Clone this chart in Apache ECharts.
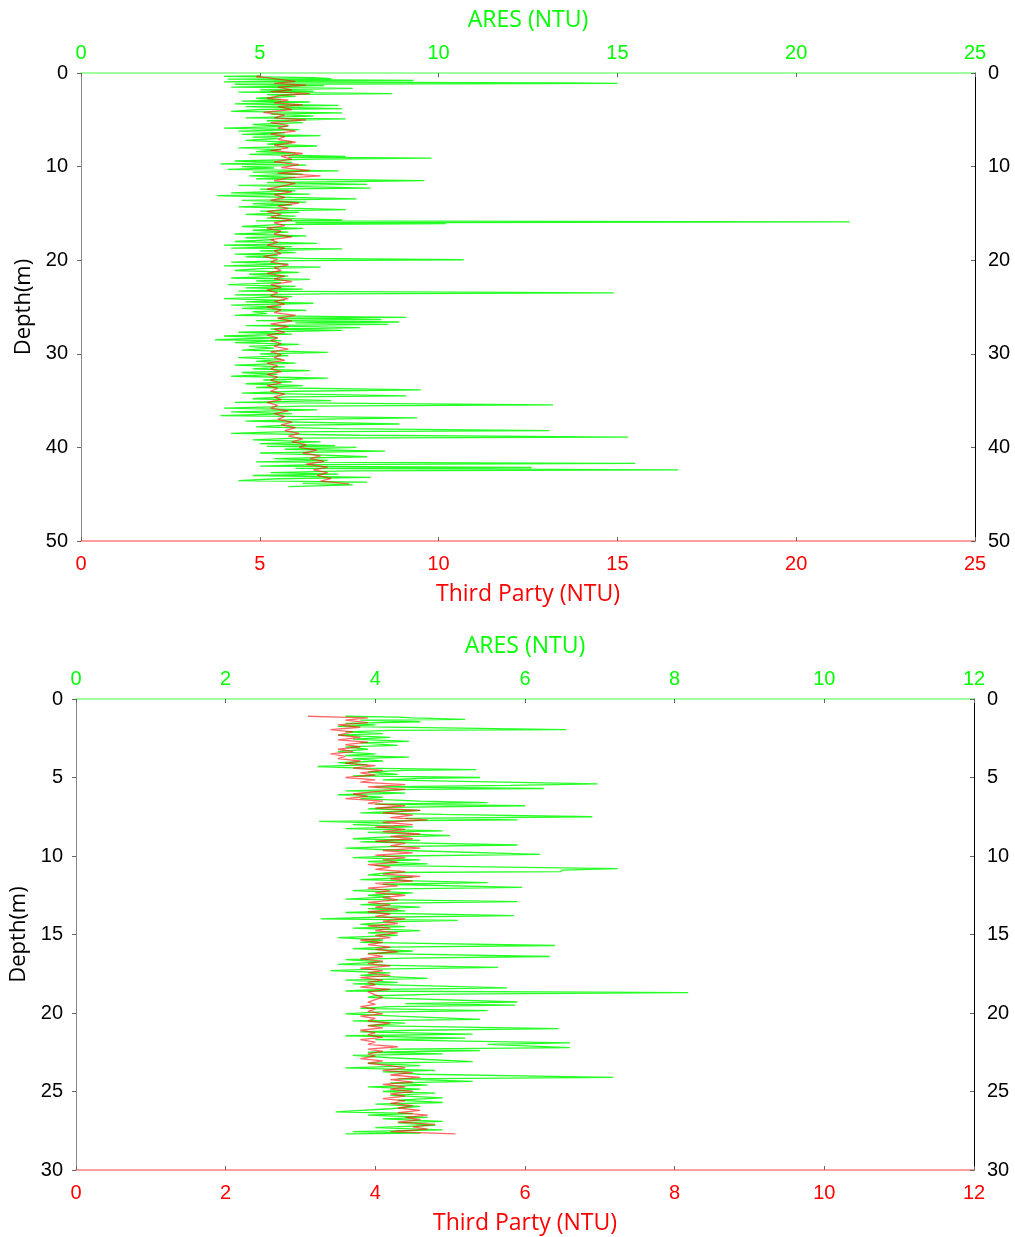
<!DOCTYPE html>
<html>
<head>
<meta charset="utf-8">
<script src="https://cdn.jsdelivr.net/npm/echarts@6/dist/echarts.min.js"></script>
<style>html,body{margin:0;padding:0;background:#fff}#c{width:1015px;height:1237px}</style>
</head>
<body>
<div id="c"></div>
<script>
// ---- Panel 1 (depth 0-50 m, NTU 0-25) ----
const topXTicks = [0, 5, 10, 15, 20, 25];
const topDepthTicks = [0, 10, 20, 30, 40, 50];
// ARES readings [NTU, depth m]
const aresTop = [[5.0,0.3],[4.0,0.35],[6.5,0.5],[7.0,0.6],[4.1,0.65],[6.2,0.7],[9.3,0.8],[5.5,0.85],[4.0,0.95],[13.6,1.05],[15.0,1.1],[4.3,1.2],[6.8,1.35],[4.2,1.5],[7.6,1.65],[5.0,1.8],[6.5,1.95],[4.4,2.05],[8.7,2.2],[5.2,2.3],[6.0,2.5],[4.9,2.7],[5.6,2.9],[4.5,3.0],[6.4,3.1],[4.3,3.3],[7.2,3.45],[4.6,3.6],[7.3,3.8],[5.0,3.9],[4.2,4.1],[7.3,4.25],[5.3,4.4],[6.5,4.6],[4.6,4.8],[7.4,4.9],[5.2,5.1],[6.2,5.3],[4.8,5.5],[5.8,5.7],[4.0,5.9],[6.1,6.05],[4.4,6.2],[5.7,6.4],[4.5,6.55],[6.7,6.7],[4.8,6.85],[5.5,7.0],[4.6,7.2],[5.9,7.4],[5.2,7.6],[6.6,7.8],[4.4,8.0],[5.6,8.2],[4.9,8.4],[6.0,8.55],[4.7,8.7],[7.4,8.9],[5.8,9.0],[9.8,9.1],[6.5,9.2],[4.3,9.4],[5.9,9.55],[3.9,9.7],[6.3,9.85],[4.5,10.0],[5.4,10.15],[4.1,10.3],[7.2,10.45],[4.8,10.6],[6.2,10.8],[4.7,11.0],[6.0,11.15],[4.9,11.3],[9.6,11.5],[7.6,11.6],[5.2,11.7],[8.0,11.9],[4.4,12.0],[8.1,12.3],[5.0,12.4],[6.0,12.6],[4.2,12.8],[6.4,12.95],[3.8,13.1],[5.9,13.3],[7.7,13.45],[4.5,13.6],[6.3,13.8],[4.8,13.95],[5.9,14.1],[4.4,14.3],[7.4,14.6],[5.0,14.75],[6.1,14.9],[4.6,15.1],[6.0,15.3],[5.2,15.5],[7.3,15.7],[4.9,15.8],[21.5,15.9],[6.0,16.0],[10.2,16.1],[5.5,16.2],[4.5,16.4],[6.2,16.6],[4.8,16.8],[5.8,17.0],[4.3,17.2],[6.3,17.4],[4.6,17.6],[5.4,17.8],[4.3,18.0],[6.6,18.2],[4.0,18.4],[5.9,18.55],[4.2,18.7],[7.3,18.8],[5.0,19.0],[6.0,19.2],[4.3,19.35],[5.5,19.5],[4.6,19.65],[6.2,19.8],[10.7,19.95],[6.0,20.05],[4.2,20.2],[5.8,20.4],[4.0,20.6],[6.7,20.75],[5.0,20.9],[4.3,21.1],[6.1,21.3],[4.7,21.5],[5.8,21.7],[4.2,21.9],[6.4,22.05],[4.9,22.2],[5.6,22.4],[4.1,22.6],[6.0,22.8],[4.6,22.95],[6.2,23.1],[4.4,23.3],[14.9,23.5],[6.8,23.6],[4.3,23.7],[5.9,23.9],[4.0,24.1],[5.7,24.3],[4.6,24.45],[6.5,24.6],[4.2,24.8],[5.6,25.0],[4.5,25.15],[6.3,25.35],[4.8,25.5],[5.2,25.7],[4.3,25.9],[9.1,26.1],[5.5,26.2],[8.4,26.35],[4.9,26.45],[8.9,26.6],[6.0,26.7],[8.6,26.85],[4.6,27.0],[7.8,27.2],[5.3,27.35],[7.3,27.5],[4.4,27.7],[5.9,27.9],[4.0,28.1],[5.5,28.3],[3.75,28.5],[5.6,28.6],[4.3,28.8],[6.1,29.0],[4.7,29.2],[5.4,29.4],[4.5,29.6],[6.9,29.85],[5.0,30.0],[5.8,30.2],[4.4,30.4],[5.6,30.6],[4.9,30.8],[6.0,31.0],[4.3,31.2],[5.7,31.4],[4.8,31.6],[6.4,31.8],[4.5,32.0],[5.5,32.2],[4.2,32.4],[6.9,32.6],[5.1,32.8],[5.9,33.0],[4.6,33.2],[6.2,33.4],[4.9,33.6],[9.5,33.85],[6.0,34.0],[4.5,34.2],[9.1,34.5],[5.8,34.6],[4.8,34.8],[7.0,35.0],[4.3,35.2],[13.2,35.45],[6.2,35.6],[4.0,35.8],[6.6,36.0],[4.2,36.2],[5.9,36.4],[3.9,36.6],[9.4,36.85],[6.3,37.0],[4.6,37.2],[8.9,37.5],[5.6,37.65],[4.9,37.8],[7.2,38.0],[13.1,38.2],[5.5,38.35],[4.2,38.5],[7.8,38.7],[15.3,38.9],[6.0,39.0],[4.8,39.2],[6.7,39.4],[5.0,39.6],[7.1,39.8],[5.2,39.9],[7.7,40.0],[5.7,40.2],[8.5,40.4],[5.0,40.6],[6.6,40.8],[8.0,41.0],[5.4,41.2],[6.9,41.4],[4.9,41.55],[11.0,41.65],[15.5,41.7],[6.5,41.85],[5.0,42.0],[12.6,42.15],[6.0,42.25],[16.7,42.4],[7.5,42.5],[5.3,42.7],[7.2,42.85],[4.8,43.0],[8.1,43.2],[5.5,43.35],[4.4,43.55],[8.0,43.7],[6.2,43.85],[7.6,44.0],[5.8,44.2]];
// Third party readings [NTU, depth m]
const thirdTop = [[5.0,0.3],[4.9,0.4],[5.2,0.5],[5.6,0.7],[6.0,0.9],[5.4,1.1],[6.3,1.3],[5.5,1.5],[5.9,1.8],[5.3,2.0],[6.4,2.2],[5.6,2.4],[5.2,2.7],[5.8,2.9],[5.4,3.2],[6.2,3.4],[5.5,3.6],[5.9,3.9],[5.1,4.2],[5.7,4.5],[5.4,4.8],[6.3,5.0],[5.3,5.3],[5.8,5.6],[5.5,5.9],[6.0,6.2],[5.3,6.5],[5.7,6.8],[5.5,7.1],[6.0,7.4],[5.4,7.7],[5.8,8.0],[5.3,8.3],[6.2,8.6],[5.6,8.9],[5.9,9.2],[5.4,9.5],[6.1,9.8],[5.6,10.1],[6.4,10.4],[5.5,10.7],[6.7,11.0],[5.8,11.2],[5.4,11.5],[6.0,11.8],[5.6,12.1],[5.2,12.4],[5.9,12.7],[5.4,13.0],[5.7,13.3],[5.3,13.6],[6.1,13.9],[5.5,14.2],[5.8,14.5],[5.2,14.8],[5.6,15.1],[5.3,15.4],[5.9,15.7],[5.4,16.0],[5.7,16.3],[5.2,16.6],[5.6,16.9],[5.4,17.2],[5.9,17.5],[5.3,17.8],[5.5,18.1],[5.2,18.4],[5.7,18.7],[5.4,19.0],[5.6,19.3],[5.1,19.6],[5.5,19.9],[5.3,20.2],[5.8,20.5],[5.4,20.8],[5.6,21.1],[5.2,21.4],[5.7,21.7],[5.4,22.0],[5.9,22.3],[5.3,22.6],[5.6,22.9],[5.2,23.2],[5.5,23.5],[5.3,23.8],[5.8,24.1],[5.4,24.4],[5.7,24.7],[5.2,25.0],[5.6,25.3],[5.4,25.6],[6.0,25.9],[5.5,26.2],[5.9,26.5],[5.3,26.8],[5.8,27.1],[5.4,27.4],[5.7,27.7],[5.2,28.0],[5.5,28.3],[5.3,28.6],[5.6,28.9],[5.4,29.2],[5.8,29.5],[5.3,29.8],[5.6,30.1],[5.4,30.4],[5.7,30.7],[5.2,31.0],[5.5,31.3],[5.3,31.6],[5.6,31.9],[5.2,32.2],[5.5,32.5],[5.3,32.8],[5.6,33.1],[5.2,33.4],[5.5,33.7],[5.3,34.0],[5.7,34.3],[5.4,34.6],[5.6,34.9],[5.2,35.2],[5.5,35.5],[5.3,35.8],[5.8,36.1],[5.4,36.4],[5.7,36.7],[5.5,37.0],[5.9,37.3],[5.6,37.6],[6.0,37.9],[5.7,38.2],[6.1,38.5],[5.8,38.8],[6.2,39.1],[5.9,39.4],[6.3,39.7],[6.1,40.0],[6.6,40.3],[6.2,40.6],[6.7,40.9],[6.4,41.2],[6.8,41.5],[6.3,41.8],[6.9,42.1],[6.5,42.4],[6.9,42.7],[6.6,43.0],[7.0,43.3],[6.7,43.6],[7.5,43.9]];

// ---- Panel 2 (depth 0-30 m, NTU 0-12) ----
const botXTicks = [0, 2, 4, 6, 8, 10, 12];
const botDepthTicks = [0, 5, 10, 15, 20, 25, 30];
const aresBot = [[3.6,1.1],[4.3,1.15],[4.5,1.2],[5.2,1.3],[3.8,1.35],[4.6,1.45],[3.6,1.55],[4.0,1.65],[3.5,1.75],[6.55,1.95],[4.2,2.0],[3.6,2.1],[4.1,2.2],[3.5,2.3],[4.2,2.45],[3.7,2.55],[4.45,2.7],[3.8,2.8],[4.3,2.95],[3.6,3.05],[3.9,3.2],[3.5,3.35],[4.0,3.5],[3.6,3.6],[4.45,3.7],[3.7,3.8],[4.1,3.95],[3.5,4.05],[3.9,4.2],[3.23,4.3],[3.8,4.4],[5.35,4.5],[4.4,4.55],[3.9,4.65],[4.3,4.8],[3.7,4.9],[5.4,5.0],[4.6,5.05],[4.1,5.15],[6.97,5.4],[5.8,5.5],[4.0,5.6],[6.25,5.7],[4.5,5.75],[3.6,5.85],[4.4,6.0],[3.5,6.1],[4.1,6.25],[3.8,6.35],[4.6,6.5],[5.5,6.6],[4.0,6.7],[6.0,6.8],[4.2,6.9],[3.9,7.0],[4.6,7.1],[3.8,7.25],[4.9,7.35],[6.9,7.5],[4.4,7.6],[5.9,7.7],[3.25,7.8],[4.2,7.9],[3.7,8.0],[4.5,8.15],[3.6,8.25],[4.9,8.4],[3.9,8.5],[5.0,8.7],[4.1,8.8],[3.7,8.9],[4.6,9.0],[3.8,9.1],[5.9,9.3],[4.2,9.4],[3.6,9.5],[4.4,9.65],[6.2,9.9],[4.3,10.0],[3.7,10.1],[4.6,10.25],[3.9,10.35],[4.7,10.5],[4.0,10.6],[7.24,10.8],[6.5,10.9],[6.47,11.0],[4.2,11.05],[3.9,11.2],[4.5,11.35],[3.8,11.5],[5.5,11.7],[4.1,11.8],[5.96,12.0],[4.3,12.1],[3.7,12.2],[4.5,12.35],[3.9,12.5],[4.2,12.6],[3.6,12.75],[5.9,12.9],[4.3,13.0],[3.8,13.1],[4.6,13.25],[3.9,13.35],[4.4,13.5],[3.6,13.6],[5.85,13.8],[4.0,13.9],[3.27,14.0],[5.1,14.1],[4.2,14.2],[3.8,14.35],[4.4,14.5],[3.7,14.6],[4.6,14.75],[3.9,14.9],[4.3,15.05],[3.5,15.2],[4.1,15.35],[3.8,15.5],[6.4,15.7],[4.2,15.8],[3.7,15.9],[4.5,16.05],[3.9,16.2],[6.33,16.4],[4.4,16.5],[3.6,16.6],[4.1,16.75],[3.5,16.9],[5.64,17.1],[4.0,17.2],[3.4,17.3],[4.2,17.45],[3.8,17.6],[4.7,17.8],[3.6,17.9],[4.3,18.05],[3.7,18.15],[5.76,18.4],[4.1,18.5],[3.6,18.6],[8.18,18.7],[4.9,18.8],[4.0,18.9],[3.9,19.0],[5.9,19.3],[4.4,19.4],[5.87,19.5],[4.2,19.6],[3.8,19.7],[5.5,19.85],[4.0,19.95],[3.6,20.05],[4.3,20.2],[5.4,20.4],[3.7,20.5],[4.4,20.65],[3.9,20.8],[6.45,21.0],[4.5,21.1],[3.8,21.2],[5.3,21.35],[3.6,21.45],[5.2,21.6],[4.0,21.7],[6.6,21.9],[5.5,22.0],[6.6,22.2],[4.2,22.3],[5.4,22.4],[3.9,22.5],[4.9,22.6],[3.7,22.7],[4.2,22.85],[5.3,23.1],[3.9,23.2],[4.6,23.35],[3.6,23.5],[4.8,23.65],[4.1,23.75],[4.6,23.9],[7.18,24.1],[4.3,24.2],[5.3,24.35],[4.2,24.45],[4.7,24.6],[3.9,24.7],[4.6,24.85],[4.1,25.0],[4.8,25.1],[4.2,25.25],[4.9,25.4],[4.3,25.55],[4.9,25.7],[4.0,25.8],[4.6,25.95],[4.2,26.1],[3.47,26.3],[4.5,26.4],[3.9,26.5],[4.7,26.65],[4.1,26.75],[4.9,26.9],[4.3,27.0],[4.8,27.15],[4.0,27.3],[4.9,27.45],[3.7,27.55],[4.6,27.65],[3.6,27.7]];
const thirdBot = [[3.1,1.1],[3.5,1.15],[3.9,1.2],[3.6,1.35],[3.9,1.5],[3.5,1.65],[3.8,1.8],[3.4,1.95],[3.7,2.1],[3.5,2.3],[3.8,2.45],[3.5,2.6],[3.9,2.75],[3.6,2.9],[3.8,3.05],[3.5,3.2],[3.7,3.35],[3.4,3.5],[3.6,3.65],[3.5,3.8],[3.8,3.95],[3.6,4.1],[4.0,4.25],[3.7,4.4],[4.1,4.55],[3.8,4.7],[4.0,4.85],[3.6,5.0],[4.0,5.15],[3.8,5.3],[4.4,5.45],[3.9,5.6],[4.4,5.75],[4.0,5.9],[3.7,6.05],[3.9,6.2],[3.6,6.35],[4.1,6.5],[3.9,6.65],[4.4,6.8],[4.0,6.95],[4.6,7.1],[4.1,7.25],[4.5,7.4],[4.2,7.55],[4.7,7.7],[4.1,7.85],[4.5,8.0],[4.0,8.15],[4.4,8.3],[4.1,8.45],[4.6,8.6],[4.2,8.75],[4.5,8.9],[4.0,9.05],[4.4,9.2],[4.2,9.35],[4.6,9.5],[4.1,9.65],[4.5,9.8],[4.0,9.95],[4.4,10.1],[4.1,10.25],[4.3,10.4],[3.9,10.55],[4.2,10.7],[4.0,10.85],[4.4,11.0],[4.1,11.15],[4.6,11.3],[4.2,11.45],[4.5,11.6],[4.0,11.75],[4.3,11.9],[3.9,12.05],[4.2,12.2],[4.0,12.35],[4.4,12.5],[4.1,12.65],[4.3,12.8],[3.9,12.95],[4.2,13.1],[4.0,13.25],[4.3,13.4],[3.9,13.55],[4.2,13.7],[4.0,13.85],[4.4,14.0],[4.1,14.15],[4.3,14.3],[3.9,14.45],[4.2,14.6],[4.0,14.75],[4.3,14.9],[4.0,15.05],[4.2,15.2],[3.8,15.35],[4.1,15.5],[3.9,15.65],[4.2,15.8],[4.0,15.95],[4.3,16.1],[3.9,16.25],[4.1,16.4],[3.8,16.55],[4.1,16.7],[3.9,16.85],[4.2,17.0],[3.8,17.15],[4.1,17.3],[3.9,17.45],[4.2,17.6],[3.8,17.75],[4.1,17.9],[3.9,18.05],[4.0,18.2],[3.8,18.35],[4.2,18.5],[3.9,18.65],[4.0,18.85],[4.1,19.0],[4.0,19.15],[3.9,19.3],[4.0,19.45],[3.8,19.6],[4.0,19.75],[3.9,19.9],[4.1,20.05],[3.8,20.2],[4.0,20.35],[3.9,20.5],[4.2,20.65],[3.9,20.8],[4.1,20.95],[3.8,21.1],[4.0,21.25],[3.9,21.4],[4.1,21.55],[3.8,21.7],[4.0,21.85],[3.9,22.0],[4.3,22.15],[3.9,22.3],[4.1,22.45],[3.9,22.6],[4.0,22.75],[3.8,22.9],[4.1,23.05],[3.9,23.2],[4.2,23.35],[4.4,23.5],[4.1,23.65],[4.5,23.8],[4.2,23.95],[4.6,24.1],[4.2,24.25],[4.5,24.4],[4.1,24.55],[4.4,24.7],[4.2,24.85],[4.5,25.0],[4.2,25.15],[4.4,25.3],[4.1,25.45],[4.4,25.6],[4.2,25.75],[4.5,25.9],[4.3,26.05],[4.6,26.2],[4.3,26.35],[4.7,26.5],[4.4,26.65],[4.6,26.8],[4.3,26.95],[4.8,27.1],[4.5,27.25],[4.7,27.4],[4.2,27.55],[5.07,27.7]];

const GREEN = '#00ff00', RED = '#ff0000';
const tickFont = 'Liberation Sans, Arial, sans-serif';
const nameFont = 'Open Sans, sans-serif';

function xAxis(gridIndex, ticks, pos, color, lineColor, name) {
  return {
    type: 'value', gridIndex: gridIndex, position: pos,
    min: ticks[0], max: ticks[ticks.length - 1], interval: ticks[1] - ticks[0],
    name: name, nameLocation: 'middle', nameGap: pos === 'top' ? 41 : 42,
    nameTextStyle: { color: color, fontSize: 23, fontFamily: nameFont },
    axisLine: { show: true, onZero: false, lineStyle: { color: lineColor, width: 1.5 } },
    axisTick: { show: true, inside: true, length: 4, lineStyle: { color: '#666' } },
    axisLabel: { color: color, fontSize: 20, fontFamily: tickFont, margin: pos === 'top' ? 10 : 13 },
    splitLine: { show: false }
  };
}
function yAxis(gridIndex, ticks, pos, lineColor, name) {
  return {
    type: 'value', gridIndex: gridIndex, position: pos, inverse: true,
    min: ticks[0], max: ticks[ticks.length - 1], interval: ticks[1] - ticks[0],
    name: name, nameLocation: 'middle', nameGap: 45, nameRotate: 90,
    nameTextStyle: { color: '#000', fontSize: 22, fontFamily: nameFont },
    axisLine: { show: true, onZero: false, lineStyle: { color: lineColor, width: 1 } },
    axisTick: { show: true, inside: pos === 'right', length: 4, lineStyle: { color: '#666' } },
    axisLabel: { color: '#000', fontSize: 20, fontFamily: tickFont, margin: 13 },
    splitLine: { show: false }
  };
}
function lineSeries(data, xi, yi, color, op, z) {
  return {
    type: 'line', data: data, xAxisIndex: xi, yAxisIndex: yi,
    showSymbol: false, symbol: 'none', animation: false, z: z,
    lineStyle: { color: color, width: 1.3, opacity: op }
  };
}

const chart = echarts.init(document.getElementById('c'), null, { renderer: 'canvas' });
chart.setOption({
  backgroundColor: '#fff',
  animation: false,
  grid: [
    { left: 81, right: 40, top: 73, height: 468, outerBoundsMode: 'none', containLabel: false },
    { left: 76, right: 41, top: 699, height: 471, outerBoundsMode: 'none', containLabel: false }
  ],
  xAxis: [
    xAxis(0, topXTicks, 'top', GREEN, '#80ff80', 'ARES (NTU)'),
    xAxis(0, topXTicks, 'bottom', RED, '#ff8080', 'Third Party (NTU)'),
    xAxis(1, botXTicks, 'top', GREEN, '#80ff80', 'ARES (NTU)'),
    xAxis(1, botXTicks, 'bottom', RED, '#ff8080', 'Third Party (NTU)')
  ],
  yAxis: [
    yAxis(0, topDepthTicks, 'left', '#888', 'Depth(m)'),
    yAxis(0, topDepthTicks, 'right', '#000', ''),
    yAxis(1, botDepthTicks, 'left', '#888', 'Depth(m)'),
    yAxis(1, botDepthTicks, 'right', '#000', '')
  ],
  series: [
    lineSeries(aresTop, 0, 0, GREEN, 0.85, 2),
    lineSeries(thirdTop, 1, 0, RED, 0.6, 3),
    lineSeries(aresBot, 2, 2, GREEN, 0.85, 2),
    lineSeries(thirdBot, 3, 2, RED, 0.6, 3)
  ]
});
</script>
</body>
</html>
